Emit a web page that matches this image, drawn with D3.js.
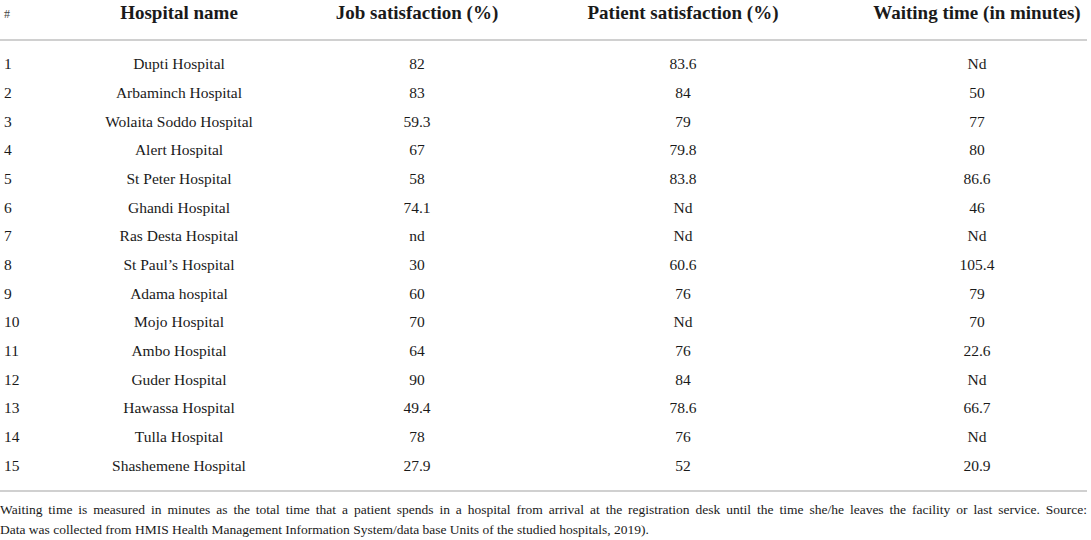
<!DOCTYPE html>
<html>
<head>
<meta charset="utf-8">
<script src="https://cdn.jsdelivr.net/npm/d3@7"></script>
<style>
  body { margin: 0; background: #fff; }
  svg text { font-family: "Liberation Serif", "DejaVu Serif", serif; fill: #1a1a1a; }
</style>
</head>
<body>
<div id="table"></div>
<script>
// table data
var rowIds = ["1","2","3","4","5","6","7","8","9","10","11","12","13","14","15"];
var hospitals = ["Dupti Hospital","Arbaminch Hospital","Wolaita Soddo Hospital","Alert Hospital",
  "St Peter Hospital","Ghandi Hospital","Ras Desta Hospital","St Paul\u2019s Hospital","Adama hospital",
  "Mojo Hospital","Ambo Hospital","Guder Hospital","Hawassa Hospital","Tulla Hospital","Shashemene Hospital"];
var jobSatisfaction = ["82","83","59.3","67","58","74.1","nd","30","60","70","64","90","49.4","78","27.9"];
var patientSatisfaction = ["83.6","84","79","79.8","83.8","Nd","Nd","60.6","76","Nd","76","84","78.6","76","52"];
var waitingTime = ["Nd","50","77","80","86.6","46","Nd","105.4","79","70","22.6","Nd","66.7","Nd","20.9"];
var headers = ["Hospital name","Job satisfaction (%)","Patient satisfaction (%)","Waiting time (in minutes)"];
var footnote = [
  "Waiting time is measured in minutes as the total time that a patient spends in a hospital from arrival at the registration desk until the time she/he leaves the facility or last service. Source:",
  "Data was collected from HMIS Health Management Information System/data base Units of the studied hospitals, 2019)."
];

var width = 1091, height = 540;

var svg = d3.select("#table")
  .append("svg")
    .attr("width", width)
    .attr("height", height);

// column centres and row bands
var x = d3.scaleOrdinal()
  .domain(headers)
  .range([179, 417, 683, 977]);

var y = d3.scaleBand()
  .domain(rowIds)
  .range([49.5, 479.7]);

var columns = [hospitals, jobSatisfaction, patientSatisfaction, waitingTime];

// header
svg.append("text")
  .attr("x", 4)
  .attr("y", 18)
  .style("font-size", "12px")
  .style("fill", "#444")
  .text("#");

svg.selectAll("text.head")
  .data(headers)
  .enter()
  .append("text")
    .attr("class", "head")
    .attr("x", function(d) { return x(d); })
    .attr("y", 19)
    .attr("text-anchor", "middle")
    .style("font-size", "19px")
    .style("font-weight", "bold")
    .text(function(d) { return d; });

// rules
svg.selectAll("line.rule")
  .data([40, 491])
  .enter()
  .append("line")
    .attr("class", "rule")
    .attr("x1", 0)
    .attr("x2", 1087)
    .attr("y1", function(d) { return d; })
    .attr("y2", function(d) { return d; })
    .style("stroke", "#d0d0d0")
    .style("stroke-width", 2);

// row numbers
svg.selectAll("text.num")
  .data(rowIds)
  .enter()
  .append("text")
    .attr("class", "num")
    .attr("x", 4)
    .attr("y", function(d) { return y(d) + y.bandwidth() / 2; })
    .attr("dy", "0.35em")
    .style("font-size", "15.5px")
    .text(function(d) { return d; });

// cells
headers.forEach(function(h, ci) {
  svg.selectAll("text.c" + ci)
    .data(columns[ci])
    .enter()
    .append("text")
      .attr("class", "c" + ci)
      .attr("x", x(h))
      .attr("y", function(d, i) { return y(rowIds[i]) + y.bandwidth() / 2; })
      .attr("dy", "0.35em")
      .attr("text-anchor", "middle")
      .style("font-size", "15.5px")
      .text(function(d) { return d; });
});

// footnote, first line justified
var notes = svg.selectAll("text.note")
  .data(footnote)
  .enter()
  .append("text")
    .attr("class", "note")
    .attr("x", 0)
    .attr("y", function(d, i) { return 514 + i * 19.5; })
    .style("font-size", "13.5px")
    .text(function(d) { return d; });

notes.filter(function(d, i) { return i == 0; })
  .each(function(d) {
    var natural = this.getComputedTextLength();
    var gaps = d.split(" ").length - 1;
    var ws = (1087 - natural) / gaps;
    d3.select(this).style("word-spacing", ws + "px");
  });
</script>
</body>
</html>
